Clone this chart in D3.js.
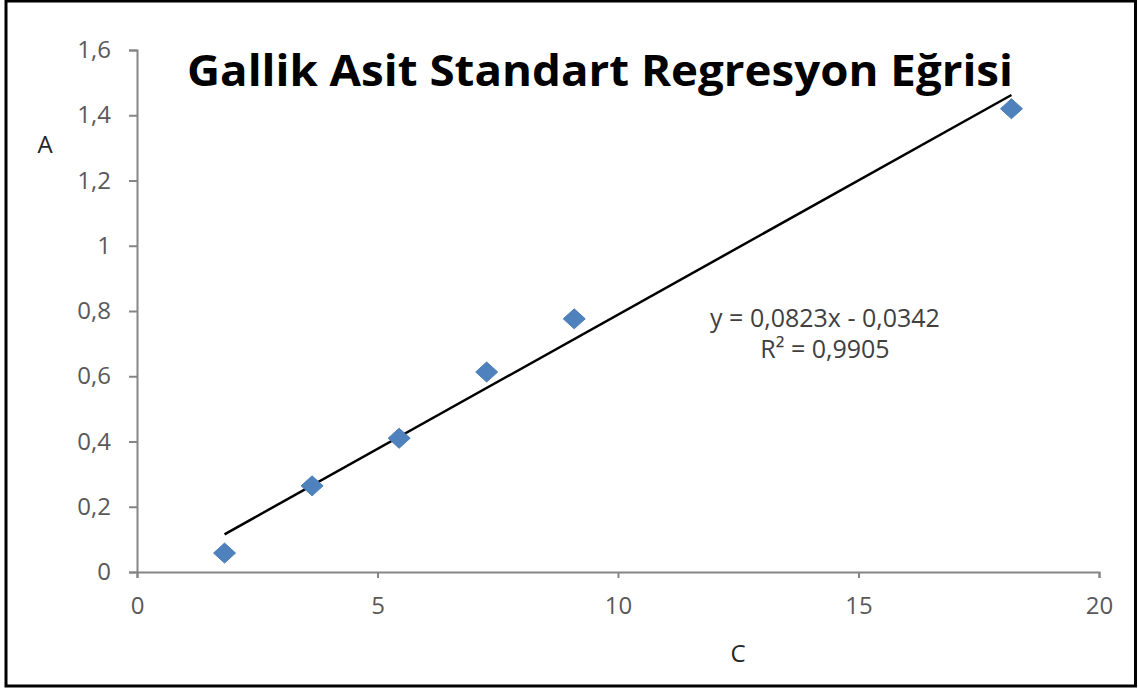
<!DOCTYPE html>
<html>
<head>
<meta charset="utf-8">
<script src="https://cdn.jsdelivr.net/npm/d3@7"></script>
<style>
  body { margin: 0; background: #fff; }
  text { font-family: "Open Sans", "DejaVu Sans", sans-serif; }
</style>
</head>
<body>
<svg id="chart" width="1138" height="688"></svg>
<script>
// data
const concentrations = [1.82, 3.64, 5.45, 7.27, 9.09, 18.18];   // C
const absorbances = [0.058, 0.264, 0.410, 0.613, 0.776, 1.420];  // A
const xTicks = [0, 5, 10, 15, 20];
const yTicks = [0, 0.2, 0.4, 0.6, 0.8, 1, 1.2, 1.4, 1.6];
const slope = 0.0823;
const intercept = -0.0342;
const equationLines = ["y = 0,0823x - 0,0342", "R² = 0,9905"];
const titleText = "Gallik Asit Standart Regresyon Eğrisi";

const width = 1138, height = 688;
const svg = d3.select("#chart");

// outer frame
svg.append("rect")
  .attr("x", 6).attr("y", 1)
  .attr("width", 1129.5).attr("height", 685)
  .attr("fill", "#fff")
  .attr("stroke", "#000")
  .attr("stroke-width", 3);

const x = d3.scaleLinear().domain([0, 20]).range([137, 1099]);
const y = d3.scaleLinear().domain([0, 1.6]).range([572, 50]);

// comma decimals
const trLocale = d3.formatLocale({ decimal: ",", thousands: ".", grouping: [3], currency: ["", ""] });
const fmt = trLocale.format("~g");

const axisColor = "#868686";
const tickFont = "24px";

// y axis
const gy = svg.append("g")
  .attr("transform", `translate(${x(0)},0)`)
  .call(d3.axisLeft(y).tickValues(yTicks).tickFormat(fmt).tickSizeOuter(0).tickSize(8).tickPadding(18));
gy.select(".domain").attr("stroke", axisColor).attr("stroke-width", 2);
gy.selectAll(".tick line").attr("stroke", axisColor).attr("stroke-width", 2);
gy.selectAll(".tick text")
  .attr("fill", "#595959")
  .style("font-size", tickFont)
  .style("font-family", "'Open Sans', sans-serif");

// x axis
const gx = svg.append("g")
  .attr("transform", `translate(0,${y(0)})`)
  .call(d3.axisBottom(x).tickValues(xTicks).tickFormat(fmt).tickSizeOuter(0).tickSize(6).tickPadding(19));
gx.select(".domain").attr("stroke", axisColor).attr("stroke-width", 2);
gx.selectAll(".tick line").attr("stroke", axisColor).attr("stroke-width", 2);
gx.selectAll(".tick text")
  .attr("fill", "#595959")
  .style("font-size", tickFont)
  .style("font-family", "'Open Sans', sans-serif");

// trendline from the fitted equation, over the data range
const xMin = d3.min(concentrations), xMax = d3.max(concentrations);
const fitLine = d3.line().x(d => x(d)).y(d => y(slope * d + intercept));
svg.append("path")
  .datum([xMin, xMax])
  .attr("d", fitLine)
  .attr("fill", "none")
  .attr("stroke", "#000")
  .attr("stroke-width", 2.5);

// diamond markers
const points = concentrations.map((c, i) => ({ c: c, a: absorbances[i] }));
const hw = 11, hh = 10;
svg.append("g")
  .selectAll("path")
  .data(points)
  .join("path")
  .attr("d", `M0,${-hh}L${hw},0L0,${hh}L${-hw},0Z`)
  .attr("transform", d => `translate(${x(d.c)},${y(d.a)})`)
  .attr("fill", "#4F81BD")
  .attr("stroke", "#4A7EBB")
  .attr("stroke-width", 1);

// title
svg.append("text")
  .attr("x", 600).attr("y", 86)
  .attr("text-anchor", "middle")
  .attr("textLength", 826)
  .attr("lengthAdjust", "spacingAndGlyphs")
  .style("font-size", "43px")
  .style("font-weight", "bold")
  .attr("fill", "#000")
  .text(titleText);

// axis titles
svg.append("text")
  .attr("x", 45).attr("y", 153)
  .attr("text-anchor", "middle")
  .style("font-size", "24px")
  .attr("fill", "#262626")
  .text("A");

svg.append("text")
  .attr("x", 738).attr("y", 662)
  .attr("text-anchor", "middle")
  .style("font-size", "24px")
  .attr("fill", "#262626")
  .text("C");

// equation label
svg.append("g")
  .selectAll("text")
  .data(equationLines)
  .join("text")
  .attr("x", 825)
  .attr("y", (d, i) => 327 + i * 31)
  .attr("text-anchor", "middle")
  .style("font-size", "25px")
  .attr("fill", "#404040")
  .text(d => d);
</script>
</body>
</html>
